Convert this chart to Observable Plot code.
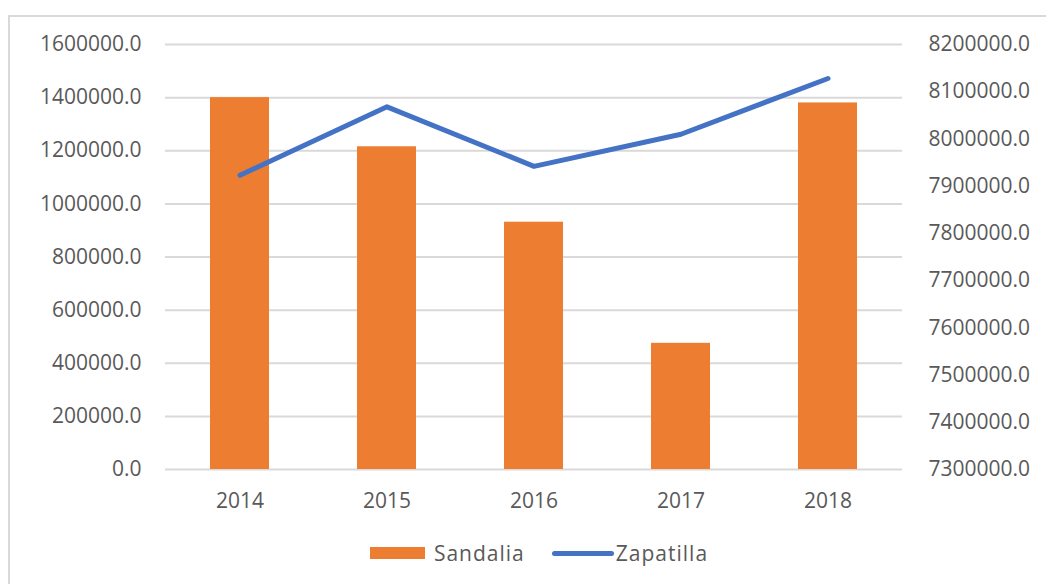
<!DOCTYPE html>
<html>
<head>
<meta charset="utf-8">
<script src="https://cdn.jsdelivr.net/npm/d3@7"></script>
<script src="https://cdn.jsdelivr.net/npm/@observablehq/plot@0.6"></script>
<style>
  html, body { margin: 0; padding: 0; background: #fff; }
  #wrap { position: relative; width: 1046px; height: 584px; overflow: hidden; }
  #frame { position: absolute; left: 8px; top: 15px; width: 1100px; height: 700px; border: 2px solid #d9d9d9; box-sizing: border-box; }
  #chart { position: absolute; left: 0; top: 0; }
  #legend { position: absolute; left: 0; top: 539px; width: 1046px; display: flex; justify-content: center; align-items: center;
            font-family: "Open Sans", sans-serif; font-size: 21px; color: #595959; letter-spacing: 1px; padding-left: 32px; box-sizing: border-box; }
  .item { display: flex; align-items: center; }
  .sw-bar { width: 55px; height: 12px; background: #ED7D31; margin-right: 9px; }
  .sw-line { width: 62px; height: 5px; border-radius: 3px; background: #4472C4; margin-left: 27px; margin-right: 2px; }
</style>
</head>
<body>
<div id="wrap">
  <div id="frame"></div>
  <div id="chart"></div>
  <div id="legend">
    <div class="item"><div class="sw-bar"></div><span>Sandalia</span></div>
    <div class="item"><div class="sw-line"></div><span>Zapatilla</span></div>
  </div>
</div>
<script>
const years = ["2014", "2015", "2016", "2017", "2018"];
const sandalia = [1400000, 1215000, 931000, 475000, 1380000];
const zapatilla = [7923000, 8068000, 7942000, 8010000, 8128000];
const leftTicks = [0, 200000, 400000, 600000, 800000, 1000000, 1200000, 1400000, 1600000];
const rightTicks = [7300000, 7400000, 7500000, 7600000, 7700000, 7800000, 7900000, 8000000, 8100000, 8200000];

const leftDomain = [0, 1600000];
const rightDomain = [7300000, 8200000];
const toLeft = v => leftDomain[0] + (v - rightDomain[0]) / (rightDomain[1] - rightDomain[0]) * (leftDomain[1] - leftDomain[0]);

const data = years.map((year, i) => ({year, sandalia: sandalia[i], zapatilla: zapatilla[i]}));
const rightMapped = rightTicks.map(v => ({pos: toLeft(v), label: v.toFixed(1)}));

const W = 1046, H = 530;
const chart = Plot.plot({
  width: W,
  height: H,
  marginLeft: 165,
  marginRight: W - 902,
  marginTop: 44,
  marginBottom: H - 469,
  style: {fontFamily: "'Open Sans', sans-serif", fontSize: "21px", color: "#595959", background: "transparent"},
  x: {domain: years, paddingInner: 0.6, paddingOuter: 0.3, axis: null, label: null},
  y: {domain: leftDomain, axis: null, label: null},
  marks: [
    Plot.gridY(leftTicks, {stroke: "#d9d9d9", strokeOpacity: 1, strokeWidth: 2}),
    Plot.barY(data, {x: "year", y: "sandalia", fill: "#ED7D31"}),
    Plot.line(data, {x: "year", y: d => toLeft(d.zapatilla), stroke: "#4472C4", strokeWidth: 5, strokeLinecap: "round", strokeLinejoin: "round"}),
    Plot.axisY(leftTicks, {anchor: "left", tickSize: 0, tickPadding: 24, tickFormat: d => d.toFixed(1), fontSize: 21, letterSpacing: 1, label: null}),
    Plot.text(rightMapped, {frameAnchor: "right", y: "pos", text: "label", textAnchor: "start", dx: 26, fontSize: 21, letterSpacing: 1, fill: "#595959"}),
    Plot.axisX({tickSize: 0, tickPadding: 24, fontSize: 21, letterSpacing: 1, label: null})
  ]
});
document.getElementById("chart").appendChild(chart);
</script>
</body>
</html>
